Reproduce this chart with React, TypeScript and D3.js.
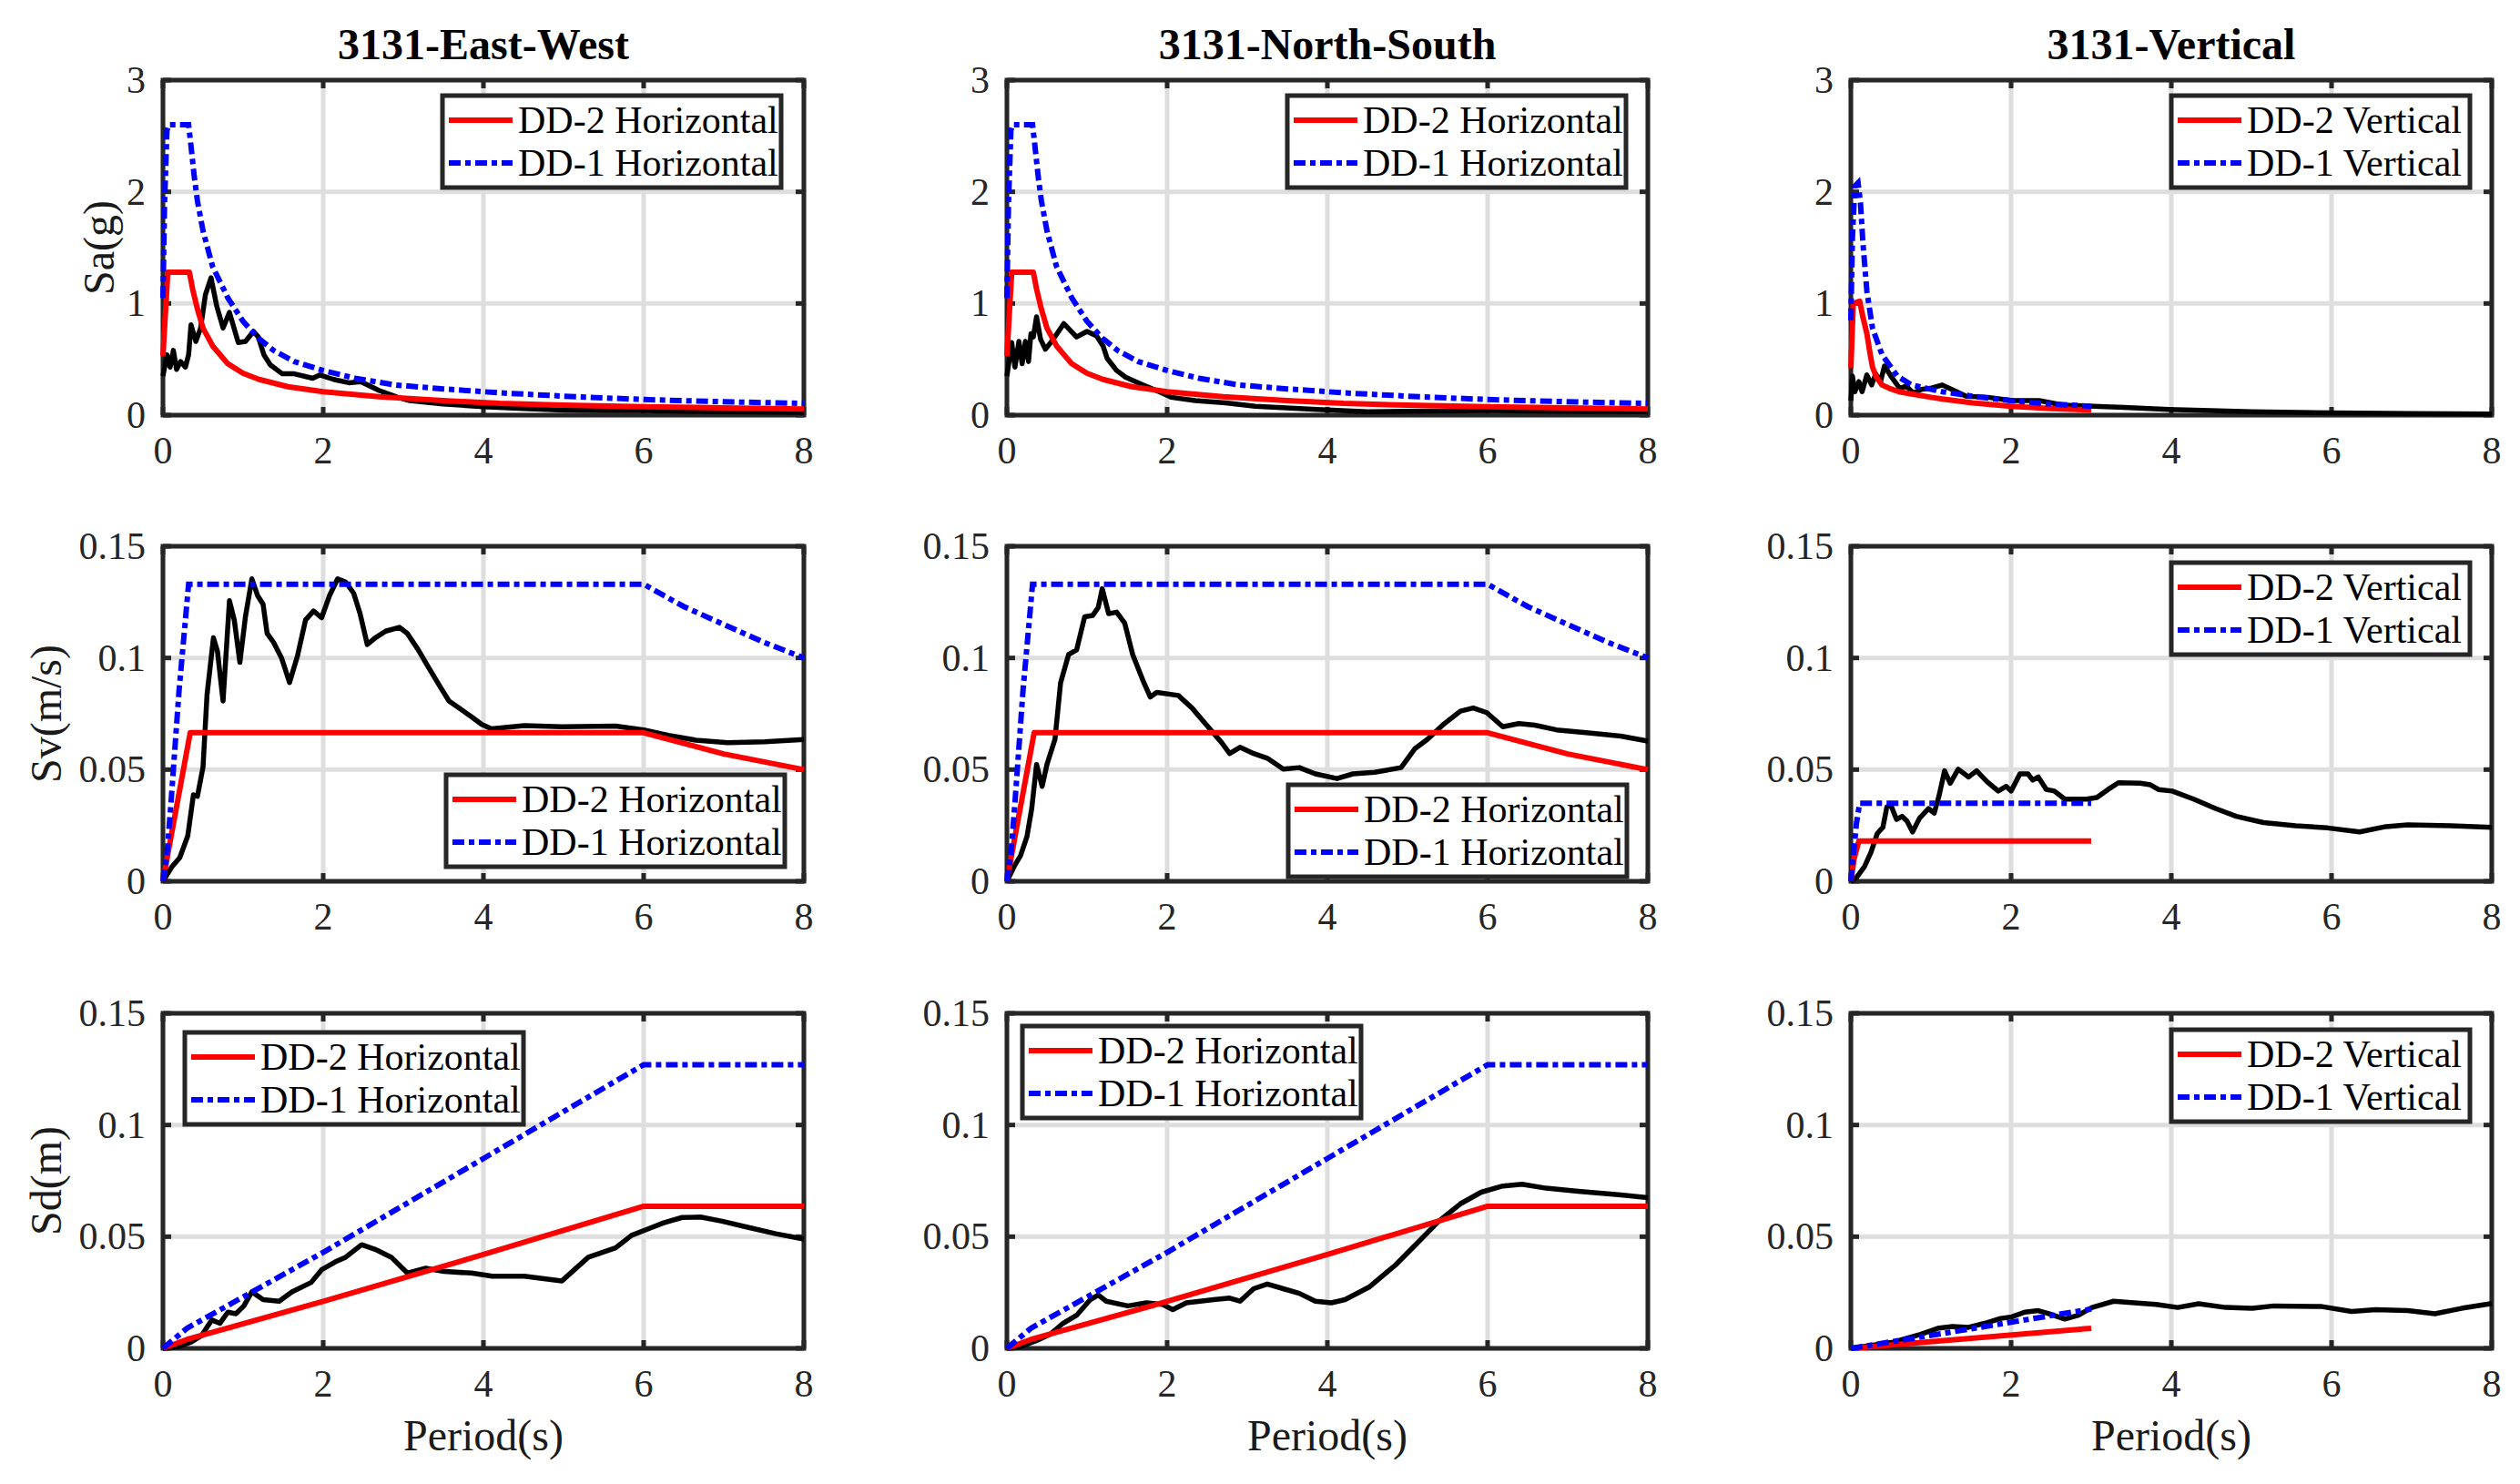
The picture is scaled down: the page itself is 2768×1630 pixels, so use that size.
import React, { useEffect } from 'react';
import * as d3 from 'd3';

type Pt = [number, number];

// ---- tick values and labels ----
const periodTicks = [0, 2, 4, 6, 8];
const saTicks = [0, 1, 2, 3];
const svTicks = [0, 0.05, 0.1, 0.15];
const sdTicks = [0, 0.05, 0.1, 0.15];

const columnTitles = ['3131-East-West', '3131-North-South', '3131-Vertical'];
const rowLabels = ['Sa(g)', 'Sv(m/s)', 'Sd(m)'];
const horizontalNames = ['DD-2 Horizontal', 'DD-1 Horizontal'];
const verticalNames = ['DD-2 Vertical', 'DD-1 Vertical'];

// ---- design spectra (period s, value) ----
const saDD2H: Pt[] = [[0, 0.53], [0.06, 1.28], [0.33, 1.28], [0.37, 1.13], [0.43, 0.95], [0.5, 0.78], [0.62, 0.62], [0.81, 0.46], [1, 0.375], [1.2, 0.32], [1.56, 0.255], [2, 0.21], [2.7, 0.165], [3.5, 0.13], [4.2, 0.105], [5, 0.09], [6, 0.075], [7, 0.065], [8, 0.055]];
const saDD1H: Pt[] = [[0, 1.05], [0.02, 1.9], [0.05, 2.55], [0.07, 2.6], [0.32, 2.6], [0.35, 2.41], [0.39, 2.14], [0.43, 1.92], [0.5, 1.65], [0.62, 1.33], [0.81, 1.05], [1, 0.84], [1.19, 0.69], [1.38, 0.58], [1.64, 0.48], [2, 0.4], [2.4, 0.33], [2.9, 0.27], [3.5, 0.235], [4.2, 0.2], [5, 0.17], [6, 0.14], [7, 0.12], [8, 0.105]];
const saDD2V: Pt[] = [[0, 0.42], [0.03, 1.0], [0.11, 1.02], [0.15, 0.88], [0.2, 0.73], [0.24, 0.55], [0.27, 0.43], [0.32, 0.34], [0.39, 0.27], [0.5, 0.235], [0.6, 0.21], [0.76, 0.19], [1.0, 0.16], [1.14, 0.145], [1.52, 0.11], [2.0, 0.08], [2.5, 0.06], [3, 0.045]];
const saDD1V: Pt[] = [[0, 0.85], [0.02, 1.6], [0.05, 2.05], [0.09, 2.08], [0.12, 1.9], [0.15, 1.55], [0.2, 1.11], [0.27, 0.78], [0.39, 0.54], [0.58, 0.35], [0.76, 0.27], [0.95, 0.24], [1.14, 0.21], [1.52, 0.17], [2.0, 0.13], [2.5, 0.1], [3, 0.08]];

const svDD2H: Pt[] = [[0, 0], [0.06, 0.012], [0.34, 0.0665], [6, 0.0665], [7, 0.057], [8, 0.05]];
const svDD1H: Pt[] = [[0, 0], [0.05, 0.012], [0.1, 0.035], [0.2, 0.085], [0.32, 0.133], [6, 0.133], [6.5, 0.123], [7, 0.115], [7.5, 0.107], [8, 0.1]];
const svDD2V: Pt[] = [[0, 0], [0.04, 0.01], [0.1, 0.018], [3, 0.018]];
const svDD1V: Pt[] = [[0, 0], [0.03, 0.011], [0.07, 0.026], [0.11, 0.035], [3, 0.035]];

const sdDD2H: Pt[] = [[0, 0], [0.3, 0.004], [2, 0.021], [4, 0.042], [6, 0.0636], [8, 0.0636]];
const sdDD1H: Pt[] = [[0, 0], [0.3, 0.009], [1, 0.023], [2, 0.043], [3, 0.064], [4, 0.085], [5, 0.106], [6, 0.127], [8, 0.127]];
const sdDD2V: Pt[] = [[0, 0], [3, 0.009]];
const sdDD1V: Pt[] = [[0, 0], [1, 0.0058], [2, 0.0117], [3, 0.0176]];

// ---- record 3131 spectra ----
const saEW: Pt[] = [[0, 0.35], [0.05, 0.54], [0.09, 0.43], [0.13, 0.58], [0.17, 0.41], [0.22, 0.48], [0.28, 0.43], [0.32, 0.54], [0.35, 0.81], [0.41, 0.66], [0.47, 0.78], [0.53, 1.08], [0.6, 1.23], [0.67, 0.98], [0.75, 0.78], [0.83, 0.92], [0.94, 0.65], [1.03, 0.66], [1.13, 0.75], [1.19, 0.7], [1.26, 0.54], [1.34, 0.45], [1.49, 0.37], [1.64, 0.37], [1.87, 0.33], [1.96, 0.36], [2.13, 0.32], [2.32, 0.29], [2.47, 0.3], [2.7, 0.22], [2.93, 0.16], [3.08, 0.13], [3.5, 0.1], [4, 0.075], [4.5, 0.06], [5, 0.045], [5.5, 0.04], [6, 0.04], [7, 0.03], [8, 0.025]];
const saNS: Pt[] = [[0, 0.35], [0.06, 0.65], [0.1, 0.43], [0.15, 0.66], [0.19, 0.46], [0.23, 0.66], [0.27, 0.48], [0.3, 0.73], [0.33, 0.7], [0.37, 0.88], [0.42, 0.68], [0.48, 0.59], [0.57, 0.67], [0.71, 0.82], [0.87, 0.7], [1.0, 0.75], [1.12, 0.71], [1.2, 0.62], [1.25, 0.51], [1.37, 0.4], [1.48, 0.34], [1.67, 0.28], [1.9, 0.21], [2.05, 0.16], [2.35, 0.13], [2.73, 0.11], [3.1, 0.08], [3.87, 0.05], [4.5, 0.03], [5, 0.035], [6, 0.04], [7, 0.035], [8, 0.03]];
const saV: Pt[] = [[0, 0.13], [0.02, 0.35], [0.05, 0.21], [0.1, 0.3], [0.14, 0.21], [0.2, 0.36], [0.26, 0.27], [0.31, 0.37], [0.37, 0.3], [0.42, 0.44], [0.5, 0.35], [0.61, 0.24], [0.69, 0.26], [0.78, 0.2], [0.88, 0.23], [0.99, 0.24], [1.14, 0.27], [1.26, 0.23], [1.44, 0.17], [1.71, 0.16], [2.01, 0.13], [2.35, 0.13], [2.65, 0.09], [3.03, 0.08], [3.41, 0.07], [3.97, 0.05], [5, 0.03], [6, 0.02], [7, 0.015], [8, 0.01]];

const svEW: Pt[] = [[0, 0], [0.11, 0.0064], [0.21, 0.0106], [0.31, 0.0204], [0.38, 0.0387], [0.43, 0.038], [0.5, 0.0512], [0.55, 0.0835], [0.63, 0.109], [0.68, 0.103], [0.75, 0.0807], [0.83, 0.1256], [0.89, 0.117], [0.96, 0.098], [1.03, 0.1186], [1.11, 0.1354], [1.18, 0.128], [1.25, 0.124], [1.3, 0.111], [1.38, 0.107], [1.48, 0.1], [1.58, 0.089], [1.68, 0.101], [1.78, 0.117], [1.88, 0.121], [1.98, 0.118], [2.08, 0.128], [2.18, 0.1354], [2.28, 0.134], [2.38, 0.129], [2.46, 0.1199], [2.55, 0.106], [2.65, 0.109], [2.78, 0.112], [2.95, 0.1137], [3.05, 0.111], [3.18, 0.104], [3.31, 0.096], [3.45, 0.0877], [3.57, 0.0807], [3.71, 0.0772], [3.85, 0.0737], [3.98, 0.0702], [4.1, 0.0683], [4.25, 0.0688], [4.51, 0.0697], [4.98, 0.0692], [5.65, 0.0695], [6, 0.0678], [6.31, 0.0653], [6.65, 0.0632], [7.05, 0.0621], [7.51, 0.0625], [8, 0.0635]];
const svNS: Pt[] = [[0, 0], [0.1, 0.0073], [0.17, 0.0115], [0.25, 0.02], [0.31, 0.0326], [0.37, 0.0523], [0.44, 0.0425], [0.5, 0.0523], [0.6, 0.0636], [0.67, 0.0889], [0.77, 0.1015], [0.87, 0.1036], [0.97, 0.1184], [1.07, 0.119], [1.14, 0.1226], [1.19, 0.131], [1.27, 0.1198], [1.37, 0.1205], [1.47, 0.1156], [1.57, 0.1015], [1.71, 0.0889], [1.79, 0.0825], [1.87, 0.0846], [2.14, 0.0832], [2.31, 0.0776], [2.51, 0.0692], [2.68, 0.0621], [2.78, 0.0572], [2.91, 0.06], [3.08, 0.0572], [3.25, 0.0551], [3.45, 0.0502], [3.65, 0.0509], [3.85, 0.0481], [4.12, 0.046], [4.32, 0.0481], [4.59, 0.0488], [4.92, 0.0509], [5.09, 0.0593], [5.25, 0.0636], [5.46, 0.0706], [5.66, 0.0762], [5.82, 0.0776], [5.99, 0.0755], [6.19, 0.0692], [6.39, 0.0706], [6.59, 0.0699], [6.86, 0.0678], [7.26, 0.0664], [7.66, 0.065], [8, 0.0628]];
const svV: Pt[] = [[0, 0], [0.07, 0.0017], [0.17, 0.0066], [0.25, 0.0129], [0.33, 0.0214], [0.4, 0.0242], [0.45, 0.0333], [0.5, 0.034], [0.57, 0.0277], [0.64, 0.0291], [0.7, 0.027], [0.77, 0.0221], [0.86, 0.0284], [0.97, 0.0326], [1.04, 0.0305], [1.1, 0.0382], [1.17, 0.0495], [1.24, 0.0439], [1.34, 0.0502], [1.47, 0.0467], [1.57, 0.0495], [1.7, 0.0446], [1.84, 0.0404], [1.94, 0.0425], [2.0, 0.0404], [2.11, 0.0481], [2.21, 0.0481], [2.27, 0.0453], [2.34, 0.0467], [2.44, 0.0411], [2.54, 0.0404], [2.67, 0.0368], [2.81, 0.0368], [2.94, 0.0368], [3.07, 0.0375], [3.21, 0.0411], [3.34, 0.0441], [3.61, 0.0439], [3.74, 0.0432], [3.84, 0.0411], [4.01, 0.0404], [4.28, 0.0368], [4.55, 0.0326], [4.81, 0.0291], [5.15, 0.0263], [5.55, 0.0249], [5.95, 0.0239], [6.35, 0.0221], [6.68, 0.0245], [6.95, 0.0253], [7.49, 0.0249], [8, 0.0242]];

const sdEW: Pt[] = [[0, 0], [0.18, 0.0007], [0.35, 0.0028], [0.48, 0.0056], [0.61, 0.0127], [0.71, 0.0112], [0.81, 0.0162], [0.91, 0.0155], [1.01, 0.019], [1.11, 0.0253], [1.25, 0.0218], [1.45, 0.0211], [1.61, 0.0253], [1.85, 0.0295], [1.98, 0.0352], [2.15, 0.0387], [2.28, 0.0408], [2.48, 0.0464], [2.65, 0.0443], [2.85, 0.0408], [3.05, 0.0337], [3.28, 0.0359], [3.51, 0.0344], [3.85, 0.0337], [4.11, 0.0323], [4.51, 0.0323], [4.98, 0.0302], [5.11, 0.0344], [5.31, 0.0408], [5.65, 0.045], [5.85, 0.0506], [6.05, 0.0534], [6.25, 0.0562], [6.48, 0.0586], [6.71, 0.0588], [6.98, 0.0569], [7.31, 0.0541], [7.65, 0.0513], [8, 0.0489]];
const sdNS: Pt[] = [[0, 0], [0.17, 0.0007], [0.37, 0.0035], [0.54, 0.0063], [0.7, 0.0112], [0.87, 0.0148], [1.04, 0.0218], [1.14, 0.0239], [1.24, 0.0211], [1.51, 0.019], [1.74, 0.0204], [1.94, 0.0197], [2.07, 0.0173], [2.24, 0.0204], [2.58, 0.0218], [2.78, 0.0225], [2.91, 0.0211], [3.08, 0.0267], [3.25, 0.0288], [3.45, 0.0267], [3.65, 0.0246], [3.85, 0.0211], [4.05, 0.0204], [4.22, 0.0218], [4.52, 0.0274], [4.85, 0.0373], [5.12, 0.0471], [5.39, 0.0569], [5.66, 0.0647], [5.92, 0.0699], [6.19, 0.0727], [6.43, 0.0735], [6.73, 0.0717], [7.13, 0.0703], [7.6, 0.0689], [8, 0.0675]];
const sdV: Pt[] = [[0, 0], [0.53, 0.0028], [0.87, 0.0063], [1.1, 0.0091], [1.27, 0.0098], [1.47, 0.0094], [1.67, 0.0112], [1.87, 0.0134], [2.01, 0.0141], [2.17, 0.0162], [2.34, 0.0169], [2.47, 0.0155], [2.67, 0.0131], [2.84, 0.0148], [3.01, 0.0183], [3.28, 0.0211], [3.54, 0.0204], [3.81, 0.0197], [4.08, 0.0183], [4.34, 0.02], [4.68, 0.0183], [5.01, 0.0179], [5.28, 0.019], [5.88, 0.0187], [6.25, 0.0165], [6.55, 0.0173], [6.95, 0.0169], [7.29, 0.0155], [7.62, 0.0179], [8, 0.0201]];

// ---- layout ----
const W = 2768;
const H = 1630;
const colLeft = [179, 1106, 2033];
const rowTop = [88, 600, 1113];
const AW = 704;
const AH = 368;
const FONT = '"Liberation Serif", "Times New Roman", Times, serif';
const AXC = '#262626';
const GRID = '#dedede';
const DASHDOT = '13 5 6 5';

// legend offsets from axes top-left (per row, per column)
const legendPos: Pt[][] = [
  [[307, 17], [308, 17], [352, 17]],
  [[311, 251], [309, 262], [352, 18]],
  [[24, 21], [17, 14], [352, 18]],
];

interface PanelSpec {
  row: number;
  col: number;
  yMax: number;
  yTicks: number[];
  record: Pt[];
  dd2: Pt[];
  dd1: Pt[];
  names: string[];
}

const records = [
  [saEW, saNS, saV],
  [svEW, svNS, svV],
  [sdEW, sdNS, sdV],
];
const designH = [[saDD2H, saDD1H], [svDD2H, svDD1H], [sdDD2H, sdDD1H]];
const designV = [[saDD2V, saDD1V], [svDD2V, svDD1V], [sdDD2V, sdDD1V]];
const rowTicks = [saTicks, svTicks, sdTicks];

const panels: PanelSpec[] = [];
for (let r = 0; r < 3; r++) {
  for (let c = 0; c < 3; c++) {
    const design = c === 2 ? designV[r] : designH[r];
    panels.push({
      row: r,
      col: c,
      yMax: rowTicks[r][rowTicks[r].length - 1],
      yTicks: rowTicks[r],
      record: records[r][c],
      dd2: design[0],
      dd1: design[1],
      names: c === 2 ? verticalNames : horizontalNames,
    });
  }
}

const Panel: React.FC<{ p: PanelSpec }> = ({ p }) => {
  const left = colLeft[p.col];
  const top = rowTop[p.row];
  const x = d3.scaleLinear().domain([0, 8]).range([left, left + AW]);
  const y = d3.scaleLinear().domain([0, p.yMax]).range([top + AH, top]);
  const line = d3.line<Pt>().x(d => x(d[0])).y(d => y(d[1]));
  const tl = 9;
  const [lx, ly] = legendPos[p.row][p.col];
  const legW = p.col === 2 ? 328 : 372;
  const legH = 101;
  const bx = left + lx;
  const by = top + ly;

  return (
    <g>
      {/* grid */}
      {periodTicks.map(t => (
        <line key={'gx' + t} x1={x(t)} x2={x(t)} y1={top} y2={top + AH} stroke={GRID} strokeWidth={5} />
      ))}
      {p.yTicks.map(t => (
        <line key={'gy' + t} x1={left} x2={left + AW} y1={y(t)} y2={y(t)} stroke={GRID} strokeWidth={5} />
      ))}
      {/* box and ticks */}
      <rect x={left} y={top} width={AW} height={AH} fill="none" stroke={AXC} strokeWidth={5} />
      {periodTicks.map(t => (
        <g key={'tx' + t}>
          <line x1={x(t)} x2={x(t)} y1={top + AH} y2={top + AH - tl} stroke={AXC} strokeWidth={5} />
          <line x1={x(t)} x2={x(t)} y1={top} y2={top + tl} stroke={AXC} strokeWidth={5} />
          <text x={x(t)} y={top + AH + 53} textAnchor="middle" fontSize={42} fill={AXC} fontFamily={FONT}>
            {t}
          </text>
        </g>
      ))}
      {p.yTicks.map(t => (
        <g key={'ty' + t}>
          <line x1={left} x2={left + tl} y1={y(t)} y2={y(t)} stroke={AXC} strokeWidth={5} />
          <line x1={left + AW} x2={left + AW - tl} y1={y(t)} y2={y(t)} stroke={AXC} strokeWidth={5} />
          <text x={left - 19} y={y(t) + 14} textAnchor="end" fontSize={42} fill={AXC} fontFamily={FONT}>
            {String(t)}
          </text>
        </g>
      ))}
      {/* series */}
      <path d={line(p.record) ?? ''} fill="none" stroke="#000" strokeWidth={5.5} strokeLinejoin="round" />
      <path d={line(p.dd2) ?? ''} fill="none" stroke="#ff0000" strokeWidth={6} strokeLinejoin="round" />
      <path d={line(p.dd1) ?? ''} fill="none" stroke="#0000ff" strokeWidth={6} strokeDasharray={DASHDOT} />
      {/* legend */}
      <rect x={bx} y={by} width={legW} height={legH} fill="#fff" stroke={AXC} strokeWidth={5} />
      {p.names.map((n, i) => {
        const cy = by + 27 + i * 47;
        return (
          <g key={n}>
            <line x1={bx + 7} x2={bx + 77} y1={cy} y2={cy} stroke={i === 0 ? '#ff0000' : '#0000ff'} strokeWidth={6}
              strokeDasharray={i === 0 ? undefined : DASHDOT} />
            <text x={bx + 83} y={cy + 14} fontSize={42} fill="#000" fontFamily={FONT}>{n}</text>
          </g>
        );
      })}
      {/* titles and labels */}
      {p.row === 0 && (
        <text x={left + AW / 2} y={65} textAnchor="middle" fontSize={48} fontWeight="bold" fill="#000" fontFamily={FONT}>
          {columnTitles[p.col]}
        </text>
      )}
      {p.col === 0 && (
        <text transform={`translate(${p.row === 0 ? 125 : 67},${top + AH / 2}) rotate(-90)`} textAnchor="middle"
          fontSize={48} fill="#1a1a1a" fontFamily={FONT}>
          {rowLabels[p.row]}
        </text>
      )}
      {p.row === 2 && (
        <text x={left + AW / 2} y={top + AH + 112} textAnchor="middle" fontSize={48} fill="#1a1a1a" fontFamily={FONT}>
          Period(s)
        </text>
      )}
    </g>
  );
};

const App: React.FC = () => {
  useEffect(() => {
    document.body.style.margin = '0';
  }, []);
  return (
    <svg width={W} height={H} viewBox={`0 0 ${W} ${H}`} style={{ display: 'block', background: '#fff' }}>
      <rect width={W} height={H} fill="#fff" />
      {panels.map(p => (
        <Panel key={`${p.row}-${p.col}`} p={p} />
      ))}
    </svg>
  );
};

export default App;
